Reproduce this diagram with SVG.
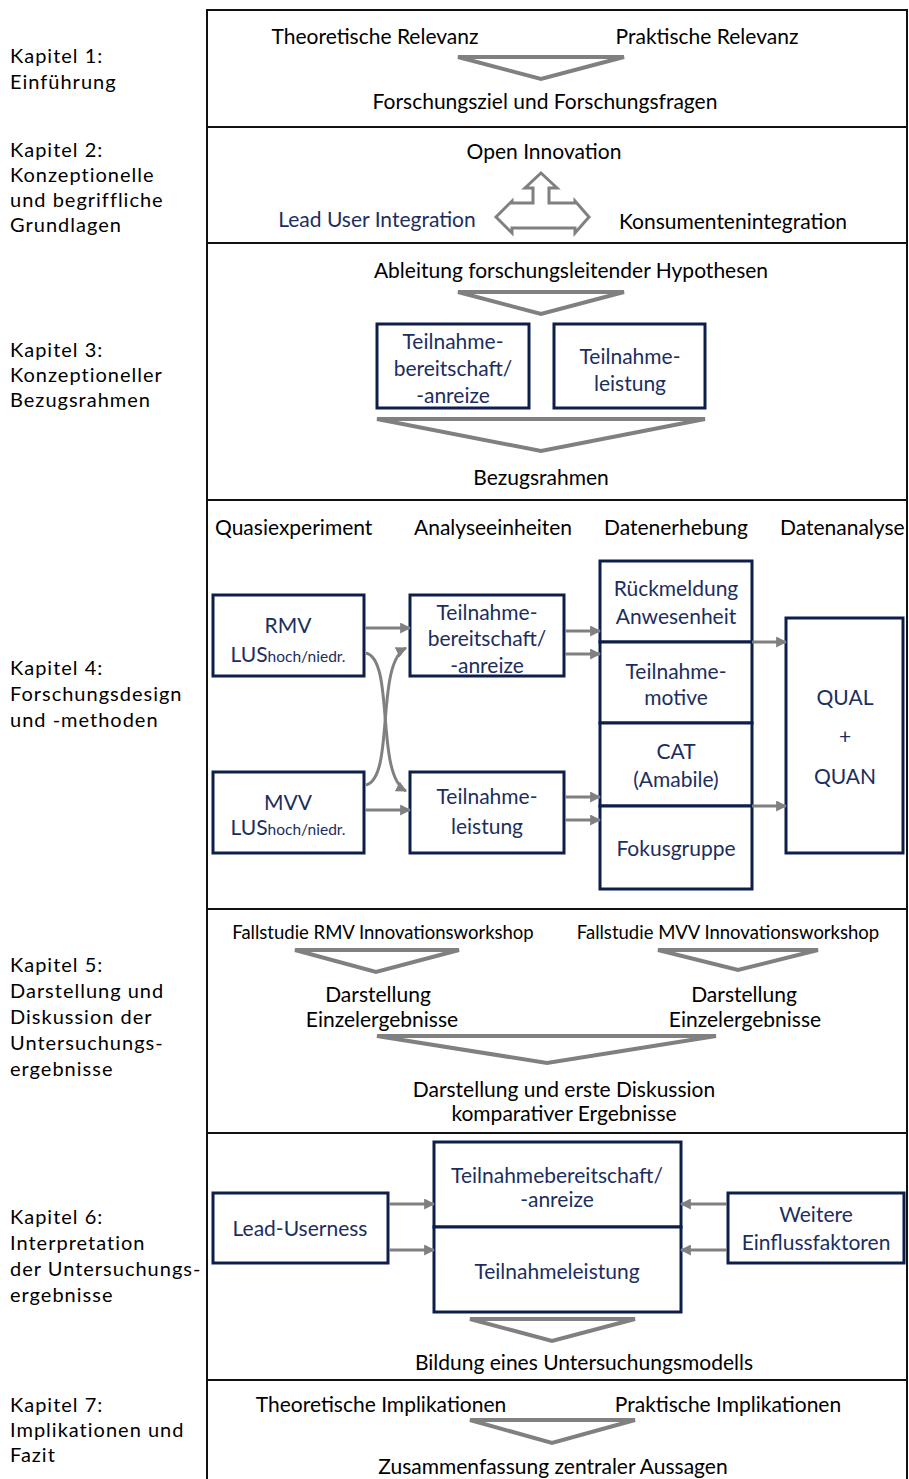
<svg xmlns="http://www.w3.org/2000/svg" width="909" height="1479" viewBox="0 0 909 1479">
  <style>
    text { font-family: Lato, "Liberation Sans", sans-serif; font-size: 21px; fill: #000; }
    .c { text-anchor: middle; }
    .nav { fill: #1C2E5E; }
    .lbl { font-size: 20px; letter-spacing: 1px; }
    .small { font-size: 18.5px; }
    .sub { font-size: 15.5px; }
    .frame { fill: none; stroke: #111; stroke-width: 2; }
    .div { stroke: #111; stroke-width: 2; }
    .box { fill: #fff; stroke: #0E1E4B; stroke-width: 3; }
    .tri { fill: none; stroke: #808080; stroke-width: 4; stroke-linejoin: miter; }
    .con { fill: none; stroke: #808080; stroke-width: 3; marker-end: url(#ah); }
  </style>
  <defs>
    <marker id="ah" viewBox="0 0 10 10" refX="9" refY="5" markerWidth="11" markerHeight="11" markerUnits="userSpaceOnUse" orient="auto">
      <path d="M0,0 L10,5 L0,10 z" fill="#808080"/>
    </marker>
  </defs>

  <rect width="909" height="1479" fill="#fff"/>

  <!-- chapter labels -->
  <g id="labels">
    <text class="lbl" x="10" y="63">Kapitel 1:</text>
    <text class="lbl" x="10" y="89">Einführung</text>
    <text class="lbl" x="10" y="157">Kapitel 2:</text>
    <text class="lbl" x="10" y="182">Konzeptionelle</text>
    <text class="lbl" x="10" y="207">und begriffliche</text>
    <text class="lbl" x="10" y="232">Grundlagen</text>
    <text class="lbl" x="10" y="357">Kapitel 3:</text>
    <text class="lbl" x="10" y="382">Konzeptioneller</text>
    <text class="lbl" x="10" y="407">Bezugsrahmen</text>
    <text class="lbl" x="10" y="675">Kapitel 4:</text>
    <text class="lbl" x="10" y="701">Forschungsdesign</text>
    <text class="lbl" x="10" y="727">und -methoden</text>
    <text class="lbl" x="10" y="972">Kapitel 5:</text>
    <text class="lbl" x="10" y="998">Darstellung und</text>
    <text class="lbl" x="10" y="1024">Diskussion der</text>
    <text class="lbl" x="10" y="1050">Untersuchungs-</text>
    <text class="lbl" x="10" y="1076">ergebnisse</text>
    <text class="lbl" x="10" y="1224">Kapitel 6:</text>
    <text class="lbl" x="10" y="1250">Interpretation</text>
    <text class="lbl" x="10" y="1276">der Untersuchungs-</text>
    <text class="lbl" x="10" y="1302">ergebnisse</text>
    <text class="lbl" x="10" y="1412">Kapitel 7:</text>
    <text class="lbl" x="10" y="1437">Implikationen und</text>
    <text class="lbl" x="10" y="1462">Fazit</text>
  </g>

  <!-- outer frame and section dividers -->
  <g id="frame">
    <rect class="frame" x="207" y="10" width="700" height="1470"/>
    <line class="div" x1="207" y1="127" x2="907" y2="127"/>
    <line class="div" x1="207" y1="243" x2="907" y2="243"/>
    <line class="div" x1="207" y1="500" x2="907" y2="500"/>
    <line class="div" x1="207" y1="909" x2="907" y2="909"/>
    <line class="div" x1="207" y1="1133" x2="907" y2="1133"/>
    <line class="div" x1="207" y1="1380" x2="907" y2="1380"/>
  </g>

  <!-- chapter 1 -->
  <g id="ch1">
    <text class="c" x="375" y="44">Theoretische Relevanz</text>
    <text class="c" x="707" y="44">Praktische Relevanz</text>
    <polygon class="tri" points="458,57 624,57 541,79"/>
    <text class="c" x="545" y="109">Forschungsziel und Forschungsfragen</text>
  </g>

  <!-- chapter 2 -->
  <g id="ch2">
    <text class="c" x="544" y="159">Open Innovation</text>
    <path d="M541,173 L557,188 L549,188 L549,203 L575,203 L575,201 L589,217 L575,233 L575,228 L512,228 L512,233 L496,217 L512,201 L512,203 L533,203 L533,188 L525,188 Z" fill="#fff" stroke="#808080" stroke-width="3" stroke-linejoin="miter"/>
    <text class="c nav" x="377" y="227">Lead User Integration</text>
    <text class="c" x="733" y="229">Konsumentenintegration</text>
  </g>

  <!-- chapter 3 -->
  <g id="ch3">
    <text class="c" x="571" y="278">Ableitung forschungsleitender Hypothesen</text>
    <polygon class="tri" points="458,292 624,292 541,314"/>
    <g id="ch3-bereitschaft">
      <rect class="box" x="377" y="324" width="152" height="84"/>
      <text class="c nav" x="453" y="349">Teilnahme-</text>
      <text class="c nav" x="453" y="376">bereitschaft/</text>
      <text class="c nav" x="453" y="403">-anreize</text>
    </g>
    <g id="ch3-leistung">
      <rect class="box" x="554" y="324" width="151" height="84"/>
      <text class="c nav" x="630" y="364">Teilnahme-</text>
      <text class="c nav" x="630" y="391">leistung</text>
    </g>
    <polygon class="tri" points="377,419 705,419 541,451"/>
    <text class="c" x="541" y="485">Bezugsrahmen</text>
  </g>

  <!-- chapter 4 -->
  <g id="ch4">
    <g id="ch4-headers">
      <text x="215" y="535">Quasiexperiment</text>
      <text x="414" y="535">Analyseeinheiten</text>
      <text x="604" y="535">Datenerhebung</text>
      <text x="780" y="535">Datenanalyse</text>
    </g>
    <g id="rmv">
      <rect class="box" x="213" y="595" width="151" height="81"/>
      <text class="c nav" x="288" y="633">RMV</text>
      <text class="c nav" x="288" y="662">LUS<tspan class="sub">hoch/niedr.</tspan></text>
    </g>
    <g id="mvv">
      <rect class="box" x="213" y="772" width="151" height="81"/>
      <text class="c nav" x="288" y="810">MVV</text>
      <text class="c nav" x="288" y="835">LUS<tspan class="sub">hoch/niedr.</tspan></text>
    </g>
    <g id="a-bereitschaft">
      <rect class="box" x="410" y="595" width="154" height="81"/>
      <text class="c nav" x="487" y="620">Teilnahme-</text>
      <text class="c nav" x="487" y="646">bereitschaft/</text>
      <text class="c nav" x="487" y="673">-anreize</text>
    </g>
    <g id="a-leistung">
      <rect class="box" x="410" y="772" width="154" height="81"/>
      <text class="c nav" x="487" y="804">Teilnahme-</text>
      <text class="c nav" x="487" y="834">leistung</text>
    </g>
    <g id="d-rueckmeldung">
      <rect class="box" x="600" y="561" width="152" height="81"/>
      <text class="c nav" x="676" y="596">Rückmeldung</text>
      <text class="c nav" x="676" y="624">Anwesenheit</text>
    </g>
    <g id="d-motive">
      <rect class="box" x="600" y="642" width="152" height="81"/>
      <text class="c nav" x="676" y="679">Teilnahme-</text>
      <text class="c nav" x="676" y="705">motive</text>
    </g>
    <g id="d-cat">
      <rect class="box" x="600" y="723" width="152" height="83"/>
      <text class="c nav" x="676" y="759">CAT</text>
      <text class="c nav" x="676" y="787">(Amabile)</text>
    </g>
    <g id="d-fokus">
      <rect class="box" x="600" y="806" width="152" height="83"/>
      <text class="c nav" x="676" y="856">Fokusgruppe</text>
    </g>
    <g id="qual">
      <rect class="box" x="786" y="618" width="117" height="235"/>
      <text class="c nav" x="845" y="705">QUAL</text>
      <text class="c nav" x="845" y="744">+</text>
      <text class="c nav" x="845" y="784">QUAN</text>
    </g>
  </g>

  <!-- chapter 5 -->
  <g id="ch5">
    <text class="c small" x="383" y="939">Fallstudie RMV Innovationsworkshop</text>
    <text class="c small" x="728" y="939">Fallstudie MVV Innovationsworkshop</text>
    <polygon class="tri" points="295,950 459,950 376,972"/>
    <polygon class="tri" points="658,950 818,950 738,970"/>
    <text class="c" x="378" y="1002">Darstellung</text>
    <text class="c" x="382" y="1027">Einzelergebnisse</text>
    <text class="c" x="744" y="1002">Darstellung</text>
    <text class="c" x="745" y="1027">Einzelergebnisse</text>
    <polygon class="tri" points="377,1036 716,1036 547,1063"/>
    <text class="c" x="564" y="1097">Darstellung und erste Diskussion</text>
    <text class="c" x="564" y="1121">komparativer Ergebnisse</text>
  </g>

  <!-- chapter 6 -->
  <g id="ch6">
    <g id="leaduserness">
      <rect class="box" x="213" y="1193" width="175" height="70"/>
      <text class="c nav" x="300" y="1236">Lead-Userness</text>
    </g>
    <g id="c-bereitschaft">
      <rect class="box" x="434" y="1142" width="247" height="85"/>
      <text class="c nav" x="557" y="1183">Teilnahmebereitschaft/</text>
      <text class="c nav" x="557" y="1207">-anreize</text>
    </g>
    <g id="c-leistung">
      <rect class="box" x="434" y="1227" width="247" height="85"/>
      <text class="c nav" x="557" y="1279">Teilnahmeleistung</text>
    </g>
    <g id="weitere">
      <rect class="box" x="728" y="1193" width="176" height="70"/>
      <text class="c nav" x="816" y="1222">Weitere</text>
      <text class="c nav" x="816" y="1250">Einflussfaktoren</text>
    </g>
    <polygon class="tri" points="470,1319 635,1319 552,1341"/>
    <text class="c" x="584" y="1370">Bildung eines Untersuchungsmodells</text>
  </g>

  <!-- chapter 7 -->
  <g id="ch7">
    <text class="c" x="381" y="1412">Theoretische Implikationen</text>
    <text class="c" x="728" y="1412">Praktische Implikationen</text>
    <polygon class="tri" points="470,1420 635,1420 552,1443"/>
    <text class="c" x="553" y="1474">Zusammenfassung zentraler Aussagen</text>
  </g>

  <!-- connectors -->
  <g id="connectors">
    <line class="con" x1="365" y1="628" x2="410" y2="628"/>
    <path class="con" d="M366,653 C395,660 375,775 406,791"/>
    <path class="con" d="M366,785 C395,778 375,663 406,648"/>
    <line class="con" x1="365" y1="810" x2="410" y2="810"/>
    <line class="con" x1="565" y1="631" x2="600" y2="631"/>
    <line class="con" x1="565" y1="654" x2="600" y2="654"/>
    <line class="con" x1="565" y1="797" x2="600" y2="797"/>
    <line class="con" x1="565" y1="820" x2="600" y2="820"/>
    <line class="con" x1="752" y1="642" x2="786" y2="642"/>
    <line class="con" x1="752" y1="806" x2="786" y2="806"/>
    <line class="con" x1="389" y1="1204" x2="434" y2="1204"/>
    <line class="con" x1="389" y1="1250" x2="434" y2="1250"/>
    <line class="con" x1="727" y1="1204" x2="681" y2="1204"/>
    <line class="con" x1="727" y1="1250" x2="681" y2="1250"/>
  </g>
</svg>
